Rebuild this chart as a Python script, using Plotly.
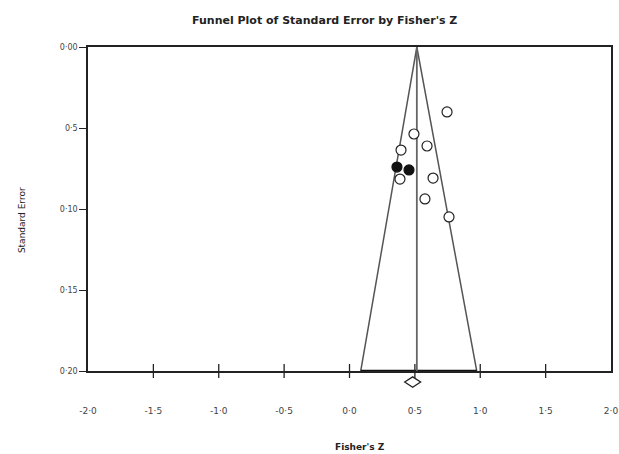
import plotly.graph_objects as go

# ---- data ----
observed_z = [0.746, 0.493, 0.593, 0.394, 0.386, 0.639, 0.577, 0.761]
observed_se = [0.0401, 0.0537, 0.0611, 0.0636, 0.0815, 0.0809, 0.0938, 0.1049]
imputed_z = [0.363, 0.455]
imputed_se = [0.0741, 0.0759]

pooled_z = 0.515          # apex / vertical line
diamond_z = 0.483         # summary diamond
funnel_left_z = 0.086     # funnel bottom-left at SE = 0.20
funnel_right_z = 0.973    # funnel bottom-right at SE = 0.20
se_max = 0.20

x_tickvals = [-2.0, -1.5, -1.0, -0.5, 0.0, 0.5, 1.0, 1.5, 2.0]
x_ticktext = ["-2·0", "-1·5", "-1·0", "-0·5", "0·0", "0·5", "1·0", "1·5", "2·0"]
y_tickvals = [0.00, 0.05, 0.10, 0.15, 0.20]
y_ticktext = ["0·00", "0·5", "0·10", "0·15", "0·20"]

fig = go.Figure()

# funnel sides
fig.add_trace(go.Scatter(
    x=[funnel_left_z, pooled_z, funnel_right_z], y=[se_max, 0.0, se_max],
    mode="lines", line=dict(color="#555555", width=1.5), hoverinfo="skip",
    showlegend=False))
# bottom of funnel (heavy)
fig.add_trace(go.Scatter(
    x=[funnel_left_z, funnel_right_z], y=[se_max, se_max],
    mode="lines", line=dict(color="#111111", width=2.5), hoverinfo="skip",
    showlegend=False, cliponaxis=False))
# vertical pooled line
fig.add_trace(go.Scatter(
    x=[pooled_z, pooled_z], y=[0.0, se_max],
    mode="lines", line=dict(color="#666666", width=1.8), hoverinfo="skip",
    showlegend=False))
# crossing tick marks on the x axis (inner ticks; corners coincide with the box)
inner_ticks = x_tickvals[1:-1]
fig.add_trace(go.Scatter(
    x=inner_ticks, y=[se_max] * len(inner_ticks), mode="markers",
    marker=dict(symbol="line-ns", size=10, color="#222222",
                line=dict(color="#222222", width=1.3)),
    cliponaxis=False, hoverinfo="skip", showlegend=False))
# observed studies
fig.add_trace(go.Scatter(
    x=observed_z, y=observed_se, mode="markers",
    marker=dict(symbol="circle", size=10, color="white",
                line=dict(color="#222222", width=1.2)),
    showlegend=False))
# imputed studies
fig.add_trace(go.Scatter(
    x=imputed_z, y=imputed_se, mode="markers",
    marker=dict(symbol="circle", size=10, color="#111111",
                line=dict(color="#111111", width=1.2)),
    showlegend=False))

# summary diamond below the axis (x in data units, y in paper units)
dhw = 0.061   # half width in Fisher's Z units
dy = -0.034   # vertical centre (paper)
dhh = 0.016   # half height (paper)
diamond_path = (f"M {diamond_z - dhw},{dy} L {diamond_z},{dy + dhh} "
                f"L {diamond_z + dhw},{dy} L {diamond_z},{dy - dhh} Z")

fig.update_layout(
    width=619, height=454,
    margin=dict(l=88, r=8, t=47, b=83),
    paper_bgcolor="white", plot_bgcolor="white",
    font=dict(family="DejaVu Sans", color="#222222"),
    xaxis=dict(range=[-2.0, 2.0], tickvals=x_tickvals, ticktext=x_ticktext,
               ticks="", ticklabelstandoff=30,
               automargin=False, ticklabeloverflow="allow",
               showline=True, linecolor="#222222", linewidth=1.5, mirror=True,
               showgrid=False, zeroline=False,
               tickfont=dict(size=9, color="#444444")),
    yaxis=dict(range=[0.2, 0.0], tickvals=y_tickvals, ticktext=y_ticktext,
               ticks="outside", ticklen=7, tickwidth=1.2, tickcolor="#222222",
               automargin=False,
               showline=True, linecolor="#222222", linewidth=1.5, mirror=True,
               showgrid=False, zeroline=False,
               tickfont=dict(size=8, color="#444444")),
    shapes=[dict(type="path", xref="x", yref="paper", path=diamond_path,
                 fillcolor="white", line=dict(color="#222222", width=1.3),
                 layer="above")],
    annotations=[
        dict(text="<b>Funnel Plot of Standard Error by Fisher's Z</b>",
             xref="paper", yref="paper", x=0.452, y=1.083,
             xanchor="center", yanchor="middle", showarrow=False,
             font=dict(size=11, color="#222222")),
        dict(text="<b>Fisher's Z</b>",
             xref="paper", yref="paper", x=0.52, y=-0.235,
             xanchor="center", yanchor="middle", showarrow=False,
             font=dict(size=9, color="#222222")),
        dict(text="Standard Error", textangle=-90,
             xref="paper", yref="paper", x=-0.126, y=0.466,
             xanchor="center", yanchor="middle", showarrow=False,
             font=dict(size=9, color="#222222")),
    ],
)

# remove the page's default body margin so the 619x454 figure fills the window
fig.write_html(
    "out.html",
    config={"displayModeBar": False},
    post_script="document.body.style.margin='0';"
                "document.body.style.overflow='hidden';",
)
